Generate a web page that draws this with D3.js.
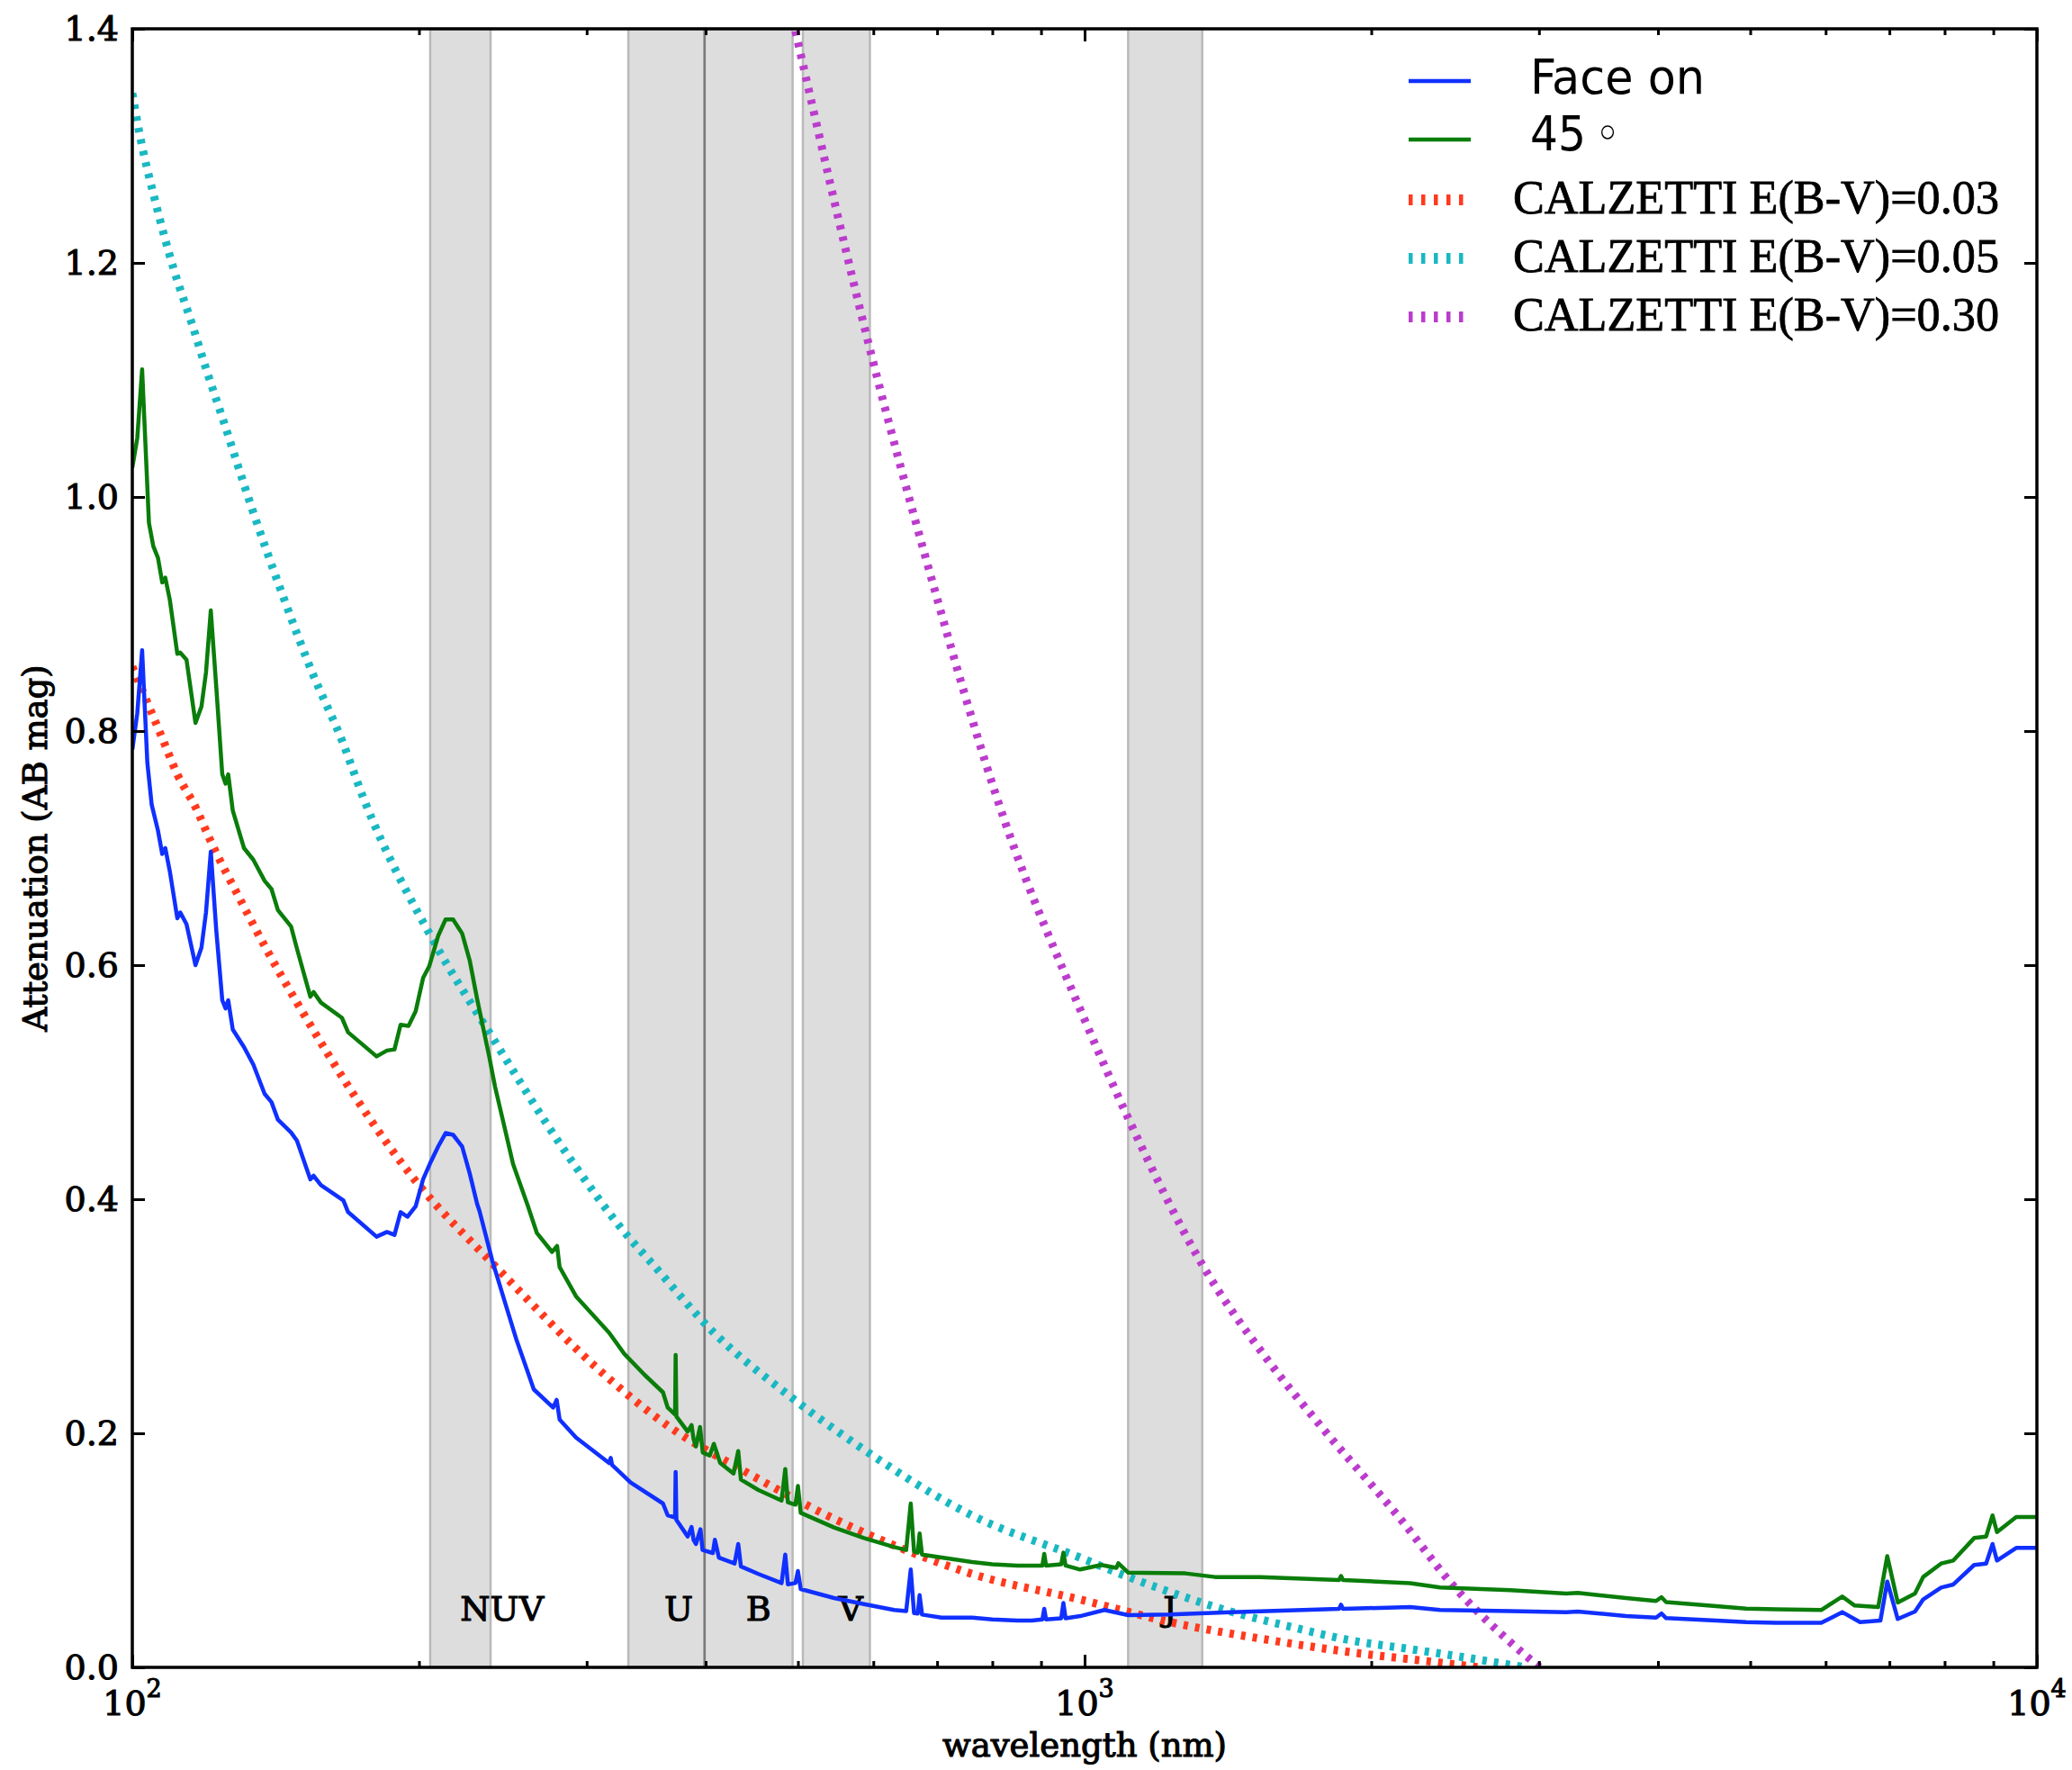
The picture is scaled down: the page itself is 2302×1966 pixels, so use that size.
<!DOCTYPE html>
<html>
<head>
<meta charset="utf-8">
<script src="https://cdn.jsdelivr.net/npm/d3@7"></script>
<style>
  html, body { margin: 0; padding: 0; background: #ffffff; }
  svg { display: block; }
</style>
</head>
<body>
<script>
// ---------------- DATA ----------------
// wavelength (nm), attenuation (AB mag)
const faceOn = [
  [100,0.784],[101.2,0.815],[102.4,0.869],[103.7,0.773],[104.8,0.737],[106.4,0.715],
  [107.5,0.695],[108.3,0.700],[109.5,0.680],[111.5,0.640],[112.3,0.645],[114,0.635],
  [116.5,0.600],[118.2,0.615],[119.5,0.645],[120.9,0.697],[122.5,0.630],[124.3,0.570],
  [125.3,0.563],[126.1,0.570],[127.5,0.545],[131,0.530],[134,0.515],[137.7,0.490],
  [140,0.483],[142.2,0.468],[146.8,0.457],[148.9,0.450],[153.8,0.417],[155,0.420],
  [157.8,0.412],[166.6,0.399],[168.5,0.389],[180.5,0.368],[185.1,0.372],[188.5,0.3695],
  [191.3,0.389],[194.5,0.385],[198.4,0.394],[202,0.417],[205.8,0.432],[209.5,0.445],
  [213.3,0.4565],[217.2,0.455],[222,0.445],[226.1,0.422],[230.2,0.396],[231.5,0.390],
  [238.7,0.348],[245.7,0.3144],[252.9,0.281],[264,0.2375],[276.6,0.222],[279,0.2285],
  [281,0.2118],[292.4,0.1964],[316.7,0.1746],[318,0.179],[319,0.173],[333.6,0.158],
  [360.8,0.140],[364.9,0.130],[371.5,0.128],[372,0.167],[372.7,0.126],[383,0.1118],
  [386.6,0.120],[388.5,0.109],[390.7,0.1054],[395,0.118],[397,0.1003],[407,0.0977],
  [409,0.109],[413,0.0938],[429,0.0887],[432.8,0.1054],[435.6,0.0862],[454.4,0.0798],
  [480.6,0.072],[484.9,0.0964],[488,0.071],[497,0.072],[500,0.0823],[503.4,0.0669],
  [545.6,0.0592],[586.6,0.054],[631,0.049],[649.6,0.048],[656.8,0.0836],[662,0.0464],
  [668,0.046],[671,0.0618],[675,0.0451],[707.5,0.0425],[761.8,0.0425],[800,0.041],
  [850,0.040],[880,0.040],[903,0.041],[907,0.050],[911,0.041],[945,0.042],[950,0.055],
  [955,0.042],[989.3,0.0438],[1049,0.049],[1111,0.0446],[1229,0.0451],[1424,0.0472],
  [1850,0.050],[1859,0.0535],[1868,0.050],[2197,0.0515],[2362,0.049],[2800,0.048],
  [3204,0.0472],[3295,0.0477],[3703,0.0438],[3982,0.0425],[4034,0.046],[4080,0.0421],
  [4605,0.040],[4952,0.0387],[5323,0.038],[5936,0.038],[6246,0.0472],[6520,0.0387],
  [6850,0.040],[6964,0.0733],[7143,0.0413],[7447,0.0477],[7595,0.058],[7932,0.0682],
  [8170,0.0708],[8593,0.0875],[8845,0.0887],[8983,0.1054],[9080,0.0913],[9512,0.1021],
  [10000,0.1021]
];

const deg45 = [
  [100,1.025],[101.2,1.050],[102.4,1.109],[104.1,0.978],[105.2,0.958],[106.4,0.948],
  [107.5,0.927],[108.3,0.931],[109.5,0.912],[111.5,0.866],[112.3,0.867],[114,0.861],
  [116.5,0.807],[118.2,0.821],[119.5,0.850],[120.9,0.903],[122.5,0.838],[124.3,0.763],
  [125.3,0.755],[126.1,0.763],[127.5,0.732],[131,0.700],[134,0.690],[137.7,0.672],
  [140,0.665],[142.2,0.647],[146.8,0.633],[148.9,0.614],[153.8,0.573],[155,0.577],
  [157.8,0.568],[166,0.555],[168.5,0.5426],[180.5,0.522],[185.1,0.527],[188.5,0.528],
  [191.3,0.549],[195,0.548],[198.4,0.5605],[202,0.589],[205,0.599],[209.5,0.625],
  [213.3,0.639],[217.2,0.639],[222,0.627],[226.1,0.604],[230.2,0.571],[237,0.522],
  [240.4,0.496],[245.7,0.463],[251.1,0.430],[260.3,0.394],[266,0.371],[275.9,0.355],
  [279.3,0.360],[281,0.342],[292.4,0.317],[316.7,0.286],[328.5,0.268],[345,0.250],
  [360.8,0.235],[364.9,0.222],[371.5,0.216],[372,0.267],[372.7,0.2144],[383,0.2015],
  [386.6,0.207],[388.5,0.195],[390.7,0.1887],[394.6,0.2054],[397.2,0.1836],[404,0.181],
  [408,0.191],[414.3,0.1746],[427.9,0.1656],[432.8,0.1848],[435.6,0.1605],[454.4,0.1515],
  [480.6,0.1425],[484.9,0.1695],[488,0.141],[497,0.139],[500,0.155],[503.4,0.132],
  [545.6,0.1195],[586.6,0.1105],[631,0.1028],[649.6,0.1003],[656.8,0.140],[662,0.099],
  [668,0.098],[671,0.1144],[675,0.0964],[761.8,0.090],[800,0.088],[850,0.087],[880,0.087],
  [903,0.087],[907,0.097],[911,0.087],[945,0.088],[950,0.098],[955,0.087],[989.3,0.0836],
  [1041,0.0875],[1080,0.085],[1085,0.089],[1111,0.081],[1275.5,0.0803],[1371,0.0772],
  [1529,0.0772],[1850,0.0746],[1859,0.078],[1868,0.0746],[2197,0.072],[2362,0.0682],
  [2800,0.066],[3204,0.0631],[3295,0.0636],[3703,0.0592],[3982,0.0567],[4034,0.060],
  [4080,0.0558],[4605,0.0523],[4952,0.0502],[5323,0.0497],[5936,0.049],[6246,0.0605],
  [6436,0.0528],[6813,0.0515],[6964,0.095],[7143,0.0554],[7447,0.0631],[7595,0.0772],
  [7932,0.0887],[8170,0.0913],[8593,0.1105],[8845,0.1118],[8983,0.1298],[9080,0.1156],
  [9512,0.1285],[10000,0.1285]
];

const calzetti003 = [
  [100,0.855],[107.5,0.794],[111.5,0.763],[116.5,0.735],[121,0.705],[130,0.655],
  [138,0.615],[148.9,0.568],[199.1,0.414],[237,0.348],[245.7,0.335],[305.4,0.258],
  [368.6,0.204],[438.5,0.168],[545.6,0.127],[654.5,0.099],[761.8,0.0798],[989,0.058],
  [1229,0.0387],[1529,0.0246],[1897,0.0131],[2362,0.004],[2600,0]
];

const calzetti005 = [
  [100,1.345],[101.4,1.317],[105.9,1.250],[110.6,1.194],[115.5,1.148],[119.8,1.107],
  [124.3,1.068],[133.7,0.989],[143.7,0.917],[154.5,0.850],[166.2,0.791],[175,0.742],
  [206.7,0.622],[237,0.5426],[288,0.435],[333.6,0.3656],[348,0.349],[408,0.286],
  [489.2,0.2323],[586.6,0.186],[761.8,0.1298],[989,0.0938],[1101,0.0785],[1229,0.0644],
  [1424,0.0477],[1644,0.0348],[1897,0.0233],[2197,0.0156],[2362,0.0118],[2904,0]
];

const calzetti030 = [
  [497,1.398],[598.6,1.118],[680.4,0.949],[824,0.7235],[998,0.555],[1110,0.470],
  [1327,0.345],[1562,0.261],[1775,0.205],[2150,0.126],[2443,0.069],[2777,0.024],[3006,0]
];

// filter bands (nm)
const bandRanges = [[205.5,237.8],[331.8,399.0],[399.0,493.6],[506,595],[1111,1329]];
const bandDividers = [399.0];
const bandNames = ["NUV","U","B","V","J"];
const bandLabelAt = [221,362,441,551,1209];

// axes
const xDomain = [100, 10000];
const yDomain = [0, 1.4];
const xMajorTicks = [100, 1000, 10000];
const xMajorExp = ["2","3","4"];
const xMinorTicks = [200,300,400,500,600,700,800,900,2000,3000,4000,5000,6000,7000,8000,9000];
const yTicks = [0,0.2,0.4,0.6,0.8,1.0,1.2,1.4];

const seriesNames = ["Face on","45","CALZETTI E(B-V)=0.03","CALZETTI E(B-V)=0.05","CALZETTI E(B-V)=0.30"];
const seriesColors = ["#1030ff","#0a7d0a","#ff3a1e","#19b8c2","#bb3ccc"];

// ---------------- DRAWING ----------------
const W = 2302, H = 1966;
const L = 147, R = 2263, T = 32, B = 1852;
const TXT_STROKE = 1.1;

const svg = d3.select("body").append("svg")
  .attr("width", W).attr("height", H)
  .style("font-family", "'DejaVu Serif', serif");

svg.append("rect").attr("width", W).attr("height", H).attr("fill", "#ffffff");

const x = d3.scaleLog().domain(xDomain).range([L, R]);
const y = d3.scaleLinear().domain(yDomain).range([B, T]);

svg.append("clipPath").attr("id", "plotclip")
  .append("rect").attr("x", L).attr("y", T).attr("width", R - L).attr("height", B - T);

// bands
const bands = svg.append("g");
bands.selectAll("rect").data(bandRanges).join("rect")
  .attr("x", d => x(d[0])).attr("y", T)
  .attr("width", d => x(d[1]) - x(d[0])).attr("height", B - T)
  .attr("fill", "#dddddd").attr("stroke", "#b9b9b9").attr("stroke-width", 2.5);
bands.selectAll("line").data(bandDividers).join("line")
  .attr("x1", d => x(d)).attr("x2", d => x(d)).attr("y1", T).attr("y2", B)
  .attr("stroke", "#7a7a7a").attr("stroke-width", 2.5);

// band labels
svg.append("g").selectAll("text").data(bandNames).join("text")
  .attr("x", (d, i) => x(bandLabelAt[i])).attr("y", 1800)
  .attr("font-size", 38).attr("fill", "#000")
  .attr("stroke", "#000").attr("stroke-width", TXT_STROKE)
  .text(d => d);

// curves
const plot = svg.append("g").attr("clip-path", "url(#plotclip)");
const solid = d3.line().x(d => x(d[0])).y(d => y(d[1]));
const smooth = d3.line().x(d => x(d[0])).y(d => y(d[1])).curve(d3.curveMonotoneX);

[calzetti003, calzetti005, calzetti030].forEach((data, i) => {
  plot.append("path").datum(data).attr("d", smooth)
    .attr("fill", "none").attr("stroke", seriesColors[i + 2])
    .attr("stroke-width", 9).attr("stroke-dasharray", "5,8");
});
[[deg45, 1], [faceOn, 0]].forEach(([data, i]) => {
  plot.append("path").datum(data).attr("d", solid)
    .attr("fill", "none").attr("stroke", seriesColors[i])
    .attr("stroke-width", 4.5).attr("stroke-linejoin", "round");
});

// axes ticks
const axG = svg.append("g");
function styleAxis(g) {
  g.select(".domain").remove();
  g.selectAll(".tick line").attr("stroke", "#000").attr("stroke-width", 3);
}
axG.append("g").attr("transform", `translate(0,${B})`)
  .call(d3.axisBottom(x).tickValues(xMajorTicks).tickSize(-14).tickFormat(""))
  .call(styleAxis);
axG.append("g").attr("transform", `translate(0,${B})`)
  .call(d3.axisBottom(x).tickValues(xMinorTicks).tickSize(-7).tickFormat(""))
  .call(styleAxis);
axG.append("g").attr("transform", `translate(0,${T})`)
  .call(d3.axisTop(x).tickValues(xMajorTicks).tickSize(-14).tickFormat(""))
  .call(styleAxis);
axG.append("g").attr("transform", `translate(0,${T})`)
  .call(d3.axisTop(x).tickValues(xMinorTicks).tickSize(-7).tickFormat(""))
  .call(styleAxis);
const yl = axG.append("g").attr("transform", `translate(${L},0)`)
  .call(d3.axisLeft(y).tickValues(yTicks).tickSize(-14).tickPadding(15).tickFormat(d3.format(".1f")))
  .call(styleAxis);
yl.selectAll(".tick text")
  .attr("font-family", "'DejaVu Serif', serif").attr("font-size", 38)
  .attr("fill", "#000").attr("stroke", "#000").attr("stroke-width", TXT_STROKE);
axG.append("g").attr("transform", `translate(${R},0)`)
  .call(d3.axisRight(y).tickValues(yTicks).tickSize(-14).tickFormat(""))
  .call(styleAxis);

// x tick labels 10^n
const xl = svg.append("g").selectAll("text").data(xMajorTicks).join("text")
  .attr("x", d => x(d)).attr("y", 1905)
  .attr("text-anchor", "middle").attr("font-size", 38)
  .attr("fill", "#000").attr("stroke", "#000").attr("stroke-width", TXT_STROKE);
xl.append("tspan").text("10");
xl.append("tspan").attr("dy", -20).attr("font-size", 27).text((d, i) => xMajorExp[i]);

// frame
svg.append("rect").attr("x", L).attr("y", T).attr("width", R - L).attr("height", B - T)
  .attr("fill", "none").attr("stroke", "#000").attr("stroke-width", 3.5);

// axis titles
svg.append("text").attr("x", (L + R) / 2).attr("y", 1951)
  .attr("text-anchor", "middle").attr("font-size", 37)
  .attr("fill", "#000").attr("stroke", "#000").attr("stroke-width", TXT_STROKE)
  .text("wavelength (nm)");
svg.append("text").attr("transform", `translate(52,${(T + B) / 2}) rotate(-90)`)
  .attr("text-anchor", "middle").attr("font-size", 37)
  .attr("fill", "#000").attr("stroke", "#000").attr("stroke-width", TXT_STROKE)
  .text("Attenuation (AB mag)");

// legend
const legY = [90, 155, 222, 287, 352];
const legTextY = [104, 167, 237, 302, 367];
const leg = svg.append("g");
seriesNames.forEach((name, i) => {
  const ln = leg.append("line")
    .attr("x1", 1565).attr("x2", 1634).attr("y1", legY[i]).attr("y2", legY[i])
    .attr("stroke", seriesColors[i]);
  if (i === 0) {
    ln.attr("stroke-width", 4.5);
    leg.append("text").attr("x", 1700).attr("y", legTextY[i])
      .attr("font-family", "'DejaVu Sans Condensed','DejaVu Sans',sans-serif")
      .style("font-stretch", "condensed")
      .attr("font-size", 54).attr("fill", "#000")
      .attr("textLength", 194).attr("lengthAdjust", "spacingAndGlyphs")
      .text(name);
  } else if (i === 1) {
    ln.attr("stroke-width", 4.5);
    const t = leg.append("text").attr("x", 1700).attr("y", legTextY[i])
      .attr("font-family", "'DejaVu Sans Condensed','DejaVu Sans',sans-serif")
      .style("font-stretch", "condensed")
      .attr("font-size", 54).attr("fill", "#000");
    t.append("tspan").text(name);
    t.append("tspan").attr("dx", 10).text("\u25E6");
  } else {
    ln.attr("stroke-width", 12).attr("stroke-dasharray", "4.5,9.5");
    leg.append("text").attr("x", 1681).attr("y", legTextY[i])
      .attr("font-family", "'Liberation Serif','Times New Roman',serif")
      .attr("font-size", 52).attr("fill", "#000")
      .attr("stroke", "#000").attr("stroke-width", 0.8)
      .attr("textLength", 540).attr("lengthAdjust", "spacingAndGlyphs")
      .text(name);
  }
});
</script>
</body>
</html>
